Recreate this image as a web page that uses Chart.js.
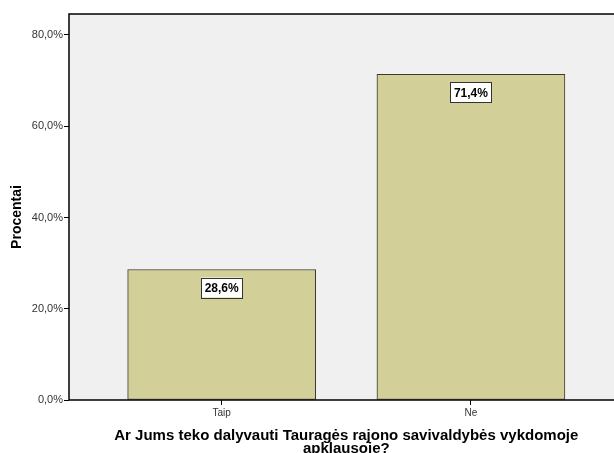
<!DOCTYPE html>
<html>
<head>
<meta charset="utf-8">
<script src="https://cdn.jsdelivr.net/npm/chart.js@4/dist/chart.umd.min.js"></script>
<style>
html,body{margin:0;padding:0;background:#fff;overflow:hidden;}
#wrap{width:614px;height:453px;position:relative;}
</style>
</head>
<body>
<div id="wrap"><canvas id="c" width="614" height="453"></canvas></div>
<script>
const categories = ['Taip', 'Ne'];
const percentValues = [28.6, 71.4];
const valueLabels = ['28,6%', '71,4%'];
const yTickValues = [0, 20, 40, 60, 80];
const yAxisTitle = 'Procentai';
const xAxisTitleLines = ['Ar Jums teko dalyvauti Tauragės rajono savivaldybės vykdomoje', 'apklausoje?'];

const FONT = '"Liberation Sans", Arial, sans-serif';

const frameBg = {
  id: 'frameBg',
  beforeDraw(chart) {
    const {ctx, chartArea: a} = chart;
    ctx.save();
    ctx.fillStyle = '#f0f0f0';
    ctx.fillRect(a.left, a.top, a.right - a.left, a.bottom - a.top);
    ctx.restore();
  },
  afterDraw(chart) {
    const {ctx, chartArea: a} = chart;
    ctx.save();
    ctx.strokeStyle = '#000';
    ctx.lineWidth = 1.5;
    ctx.beginPath();
    ctx.moveTo(a.left, a.bottom);
    ctx.lineTo(a.left, a.top);
    ctx.lineTo(a.right + 2, a.top);
    ctx.moveTo(a.left, a.bottom);
    ctx.lineTo(a.right + 2, a.bottom);
    ctx.stroke();
    // data labels
    const meta = chart.getDatasetMeta(0);
    ctx.font = 'bold 12px ' + FONT;
    ctx.textAlign = 'center';
    ctx.textBaseline = 'middle';
    meta.data.forEach((bar, i) => {
      const cx = bar.x, cy = bar.y + 18;
      const w = 41, h = 20;
      ctx.fillStyle = '#fff';
      ctx.fillRect(cx - w / 2, cy - h / 2, w, h);
      ctx.strokeStyle = '#333';
      ctx.lineWidth = 1;
      ctx.strokeRect(Math.round(cx - w / 2) + 0.5, Math.round(cy - h / 2) + 0.5, w, h);
      ctx.fillStyle = '#000';
      ctx.fillText(valueLabels[i], cx, cy + 1);
    });
    // axis titles
    ctx.fillStyle = '#000';
    ctx.textBaseline = 'alphabetic';
    ctx.font = 'bold 14px ' + FONT;
    ctx.save();
    ctx.translate(21, (a.top + a.bottom) / 2 + 10);
    ctx.rotate(-Math.PI / 2);
    ctx.fillText(yAxisTitle, 0, 0);
    ctx.restore();
    const xs = chart.scales.x;
    const midX = (xs.getPixelForValue(0) + xs.getPixelForValue(1)) / 2;
    ctx.font = 'bold 15px ' + FONT;
    xAxisTitleLines.forEach((line, i) => {
      ctx.fillText(line, midX, 440 + i * 13);
    });
    ctx.restore();
  }
};

new Chart(document.getElementById('c'), {
  type: 'bar',
  data: {
    datasets: [{
      data: categories.map((c, i) => ({x: i, y: percentValues[i]})),
      backgroundColor: '#d3cf99',
      borderColor: '#3a3a30',
      borderWidth: 1,
      borderSkipped: false,
      barThickness: 188,
      grouped: false
    }]
  },
  plugins: [frameBg],
  options: {
    responsive: false,
    animation: false,
    layout: {padding: {top: 14, right: 0, left: 0, bottom: 0}},
    plugins: {legend: {display: false}, tooltip: {enabled: false}},
    scales: {
      x: {
        type: 'linear',
        offset: false,
        min: -0.6125,
        max: 1.574,
        afterBuildTicks(s) { s.ticks = categories.map((c, i) => ({value: i})); },
        afterFit(s) { s.height = 53; },
        ticks: {
          callback: (v) => categories[v] ?? '',
          font: {family: FONT, size: 10},
          color: '#333',
          padding: 2,
          maxRotation: 0,
          autoSkip: false
        },
        grid: {offset: false, drawOnChartArea: false, tickLength: 5, color: '#000', lineWidth: 1},
        border: {display: false}
      },
      y: {
        min: 0,
        max: 84.6,
        afterBuildTicks(s) { s.ticks = yTickValues.map(v => ({value: v})); },
        afterFit(s) { s.width = 69; },
        ticks: {
          callback: (v) => v.toFixed(1).replace('.', ',') + '%',
          font: {family: FONT, size: 11},
          color: '#333',
          padding: 1
        },
        grid: {drawOnChartArea: false, tickLength: 5, color: '#000', lineWidth: 1},
        border: {display: false}
      }
    }
  }
});
</script>
</body>
</html>
